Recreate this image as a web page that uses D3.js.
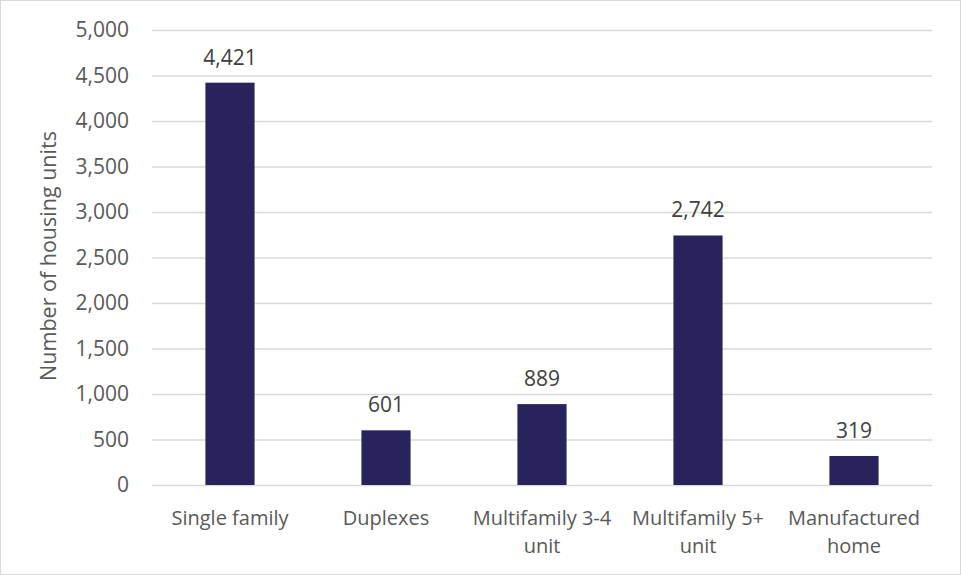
<!DOCTYPE html>
<html>
<head>
<meta charset="utf-8">
<script src="https://cdn.jsdelivr.net/npm/d3@7"></script>
<style>
  html, body { margin: 0; padding: 0; background: #fff; }
  svg { display: block; }
</style>
</head>
<body>
<svg id="chart" width="961" height="575"></svg>
<script>
// Housing units by structure type
const categories = [["Single family"], ["Duplexes"], ["Multifamily 3-4", "unit"], ["Multifamily 5+", "unit"], ["Manufactured", "home"]];
const values = [4421, 601, 889, 2742, 319];
const yTicks = [0, 500, 1000, 1500, 2000, 2500, 3000, 3500, 4000, 4500, 5000];
const yTitle = "Number of housing units";

const W = 961, H = 575;
const plot = { left: 152, right: 932, top: 30, bottom: 485 };
const font = "'Open Sans', sans-serif";
const fmt = d3.format(",");

const svg = d3.select("#chart");

// Chart frame
svg.append("rect")
  .attr("x", 0.5).attr("y", 0.5).attr("width", W - 1).attr("height", H - 1)
  .attr("fill", "#fff").attr("stroke", "#d9d9d9").attr("stroke-width", 1);

const x = d3.scaleBand()
  .domain(categories.map((c, i) => i))
  .range([plot.left, plot.right])
  .paddingInner(0.685).paddingOuter(0.3425);

const y = d3.scaleLinear().domain([0, 5000]).range([plot.bottom, plot.top]);

// Gridlines and tick labels
const yAxis = d3.axisLeft(y).tickValues(yTicks).tickFormat(fmt)
  .tickSize(-(plot.right - plot.left)).tickPadding(23);
const gy = svg.append("g").attr("transform", `translate(${plot.left},0)`).call(yAxis);
gy.select(".domain").remove();
gy.selectAll(".tick line").attr("stroke", "#d9d9d9").attr("stroke-width", 1.3);
gy.selectAll(".tick text")
  .attr("fill", "#595959").attr("font-size", 21).attr("font-family", font);

// Bars
svg.append("g").selectAll("rect").data(values).join("rect")
  .attr("x", (d, i) => x(i))
  .attr("width", x.bandwidth())
  .attr("y", d => y(d))
  .attr("height", d => y(0) - y(d))
  .attr("fill", "#29235c");

// Value labels
svg.append("g").selectAll("text").data(values).join("text")
  .attr("x", (d, i) => x(i) + x.bandwidth() / 2)
  .attr("y", d => y(d) - 18)
  .attr("text-anchor", "middle")
  .attr("fill", "#404040").attr("font-size", 21).attr("font-family", font)
  .text(d => fmt(d));

// Category labels
const cat = svg.append("g").selectAll("text").data(categories).join("text")
  .attr("x", (d, i) => x(i) + x.bandwidth() / 2)
  .attr("y", 525)
  .attr("text-anchor", "middle")
  .attr("fill", "#595959").attr("font-size", 20).attr("font-family", font);
cat.selectAll("tspan").data(d => d).join("tspan")
  .attr("x", function () { return d3.select(this.parentNode).attr("x"); })
  .attr("dy", (d, i) => i === 0 ? 0 : 28)
  .text(d => d);

// Y axis title
svg.append("text")
  .attr("transform", `translate(56,256) rotate(-90)`)
  .attr("text-anchor", "middle")
  .attr("fill", "#595959").attr("font-size", 21.5).attr("font-family", font)
  .text(yTitle);
</script>
</body>
</html>
